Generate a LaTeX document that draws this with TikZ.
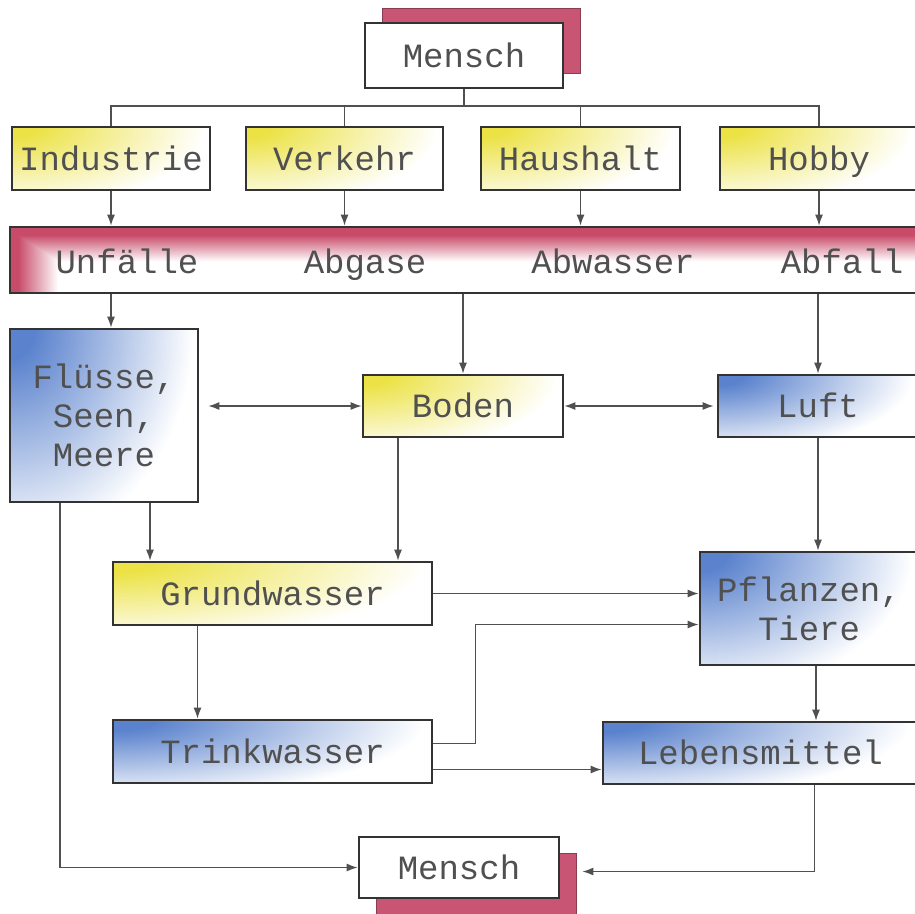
\documentclass[tikz,border=0pt]{standalone}
\usepackage{fontspec}
\setmainfont{Liberation Mono}
\usetikzlibrary{arrows.meta,shadows}

\definecolor{schatten}{RGB}{200,85,115}
\definecolor{tinte}{RGB}{80,80,80}

\pgfdeclarefunctionalshading{balken}{\pgfpoint{-50bp}{-50bp}}{\pgfpoint{50bp}{50bp}}{}{
  25 exch sub 20 div 1.3 exch sub
  exch 25 add 2.2 div 1.2 exch sub
  2 copy lt {exch} if pop
  dup 0 lt {pop 0} if
  dup 1 gt {pop 1} if
  dup 0.216 mul 1 exch sub
  exch dup 0.706 mul 1 exch sub
  exch 0.588 mul 1 exch sub
}
\pgfdeclarefunctionalshading{gelbwash}{\pgfpoint{-50bp}{-50bp}}{\pgfpoint{50bp}{50bp}}{}{
  25 exch sub 50 div 1.1 div dup mul
  exch 25 add 50 div 0.85 div dup mul
  add sqrt 1.15 exch sub
  dup 0 lt {pop 0} if
  dup 1 gt {pop 1} if
  dup 0.075 mul 1 exch sub
  exch dup 0.114 mul 1 exch sub
  exch 0.725 mul 1 exch sub
}
\pgfdeclarefunctionalshading{blauwash}{\pgfpoint{-50bp}{-50bp}}{\pgfpoint{50bp}{50bp}}{}{
  25 exch sub 50 div 1.1 div dup mul
  exch 25 add 50 div 0.85 div dup mul
  add sqrt 1.15 exch sub
  dup 0 lt {pop 0} if
  dup 1 gt {pop 1} if
  dup 0.647 mul 1 exch sub
  exch dup 0.49 mul 1 exch sub
  exch 0.196 mul 1 exch sub
}

\tikzset{
  schrift/.style={text=tinte, font=\fontsize{34}{39}\selectfont, align=center, text height=23pt, text depth=0pt},
  kasten/.style={schrift, draw=black!80, line width=2.6pt, inner sep=0pt, fill=white},
  gelbkasten/.style={kasten, shading=gelbwash},
  blaukasten/.style={kasten, shading=blauwash},
  mehrzeilig/.style={text height={}, text depth={}},
  mensch/.style={kasten, drop shadow={shadow xshift=17pt, shadow yshift=#1, fill=schatten, draw=schatten!70!black, line width=1pt, opacity=1}},
  linie/.style={draw=tinte, line width=1.5pt},
  pfeil/.style={linie, -{Latex[length=11pt,width=8pt]}},
  pfeil2/.style={linie, {Latex[length=11pt,width=8pt]}-{Latex[length=11pt,width=8pt]}}
}

\begin{document}
\begin{tikzpicture}[x=1pt,y=-1pt]
    \useasboundingbox (0,0) rectangle (915,913);
    \fill[white] (0,0) rectangle (915,913);

    \node[mensch=15pt, minimum width=198pt, minimum height=65pt] (menschO) at (464,55.5) {Mensch};
    \coordinate (bus) at (464,106);

    \node[gelbkasten, minimum width=198pt, minimum height=63pt] (indu) at (111,158.5) {Industrie};
    \node[gelbkasten, minimum width=197pt, minimum height=63pt] (verk) at (344.5,158.5) {Verkehr};
    \node[gelbkasten, minimum width=199pt, minimum height=63pt] (haus) at (580.5,158.5) {Haushalt};
    \node[gelbkasten, minimum width=198pt, minimum height=63pt] (hobby) at (819,158.5) {Hobby};

    \node[kasten, shading=balken, minimum width=908pt, minimum height=66pt] (bar) at (464,260) {};
    \node[schrift] (unfa) at (127,262) {Unfälle};
    \node[schrift] (abga) at (365,262) {Abgase};
    \node[schrift] (abwa) at (613,262) {Abwasser};
    \node[schrift] (abfa) at (842,262) {Abfall};

    \node[blaukasten, mehrzeilig, minimum width=188pt, minimum height=173pt] (flus) at (104,415.5) {Flüsse,\\Seen,\\Meere};
    \node[gelbkasten, minimum width=200pt, minimum height=62pt] (boden) at (463,406) {Boden};
    \node[blaukasten, minimum width=200pt, minimum height=62pt] (luft) at (818,406) {Luft};

    \node[gelbkasten, minimum width=319pt, minimum height=63pt] (grund) at (272.5,593.5) {Grundwasser};
    \node[blaukasten, mehrzeilig, minimum width=218pt, minimum height=113pt] (pflan) at (809,608.5) {Pflanzen,\\Tiere};

    \node[blaukasten, minimum width=319pt, minimum height=63pt] (trink) at (272.5,751.5) {Trinkwasser};
    \node[blaukasten, minimum width=315pt, minimum height=62pt] (leben) at (760.5,753) {Lebensmittel};

    \node[mensch=-16pt, minimum width=200pt, minimum height=61pt] (menschU) at (459,867.5) {Mensch};

    \draw[linie] (menschO.south) -- (bus);
    \draw[linie] (indu.north) |- (bus) -| (hobby.north);
    \draw[linie] (verk.north) -- (verk.north |- bus);
    \draw[linie] (haus.north) -- (haus.north |- bus);
    \foreach \n in {indu,verk,haus,hobby}
        \draw[pfeil] (\n.south) -- (\n.south |- bar.north);

    \draw[pfeil] (indu.south |- bar.south) -- (indu.south |- flus.north);
    \draw[pfeil] (boden.north |- bar.south) -- (boden.north);
    \draw[pfeil] (luft.north |- bar.south) -- (luft.north);

    \draw[pfeil2, shorten <=9pt] (flus.east |- boden.west) -- (boden.west);
    \draw[pfeil2, shorten >=3pt] (boden.east) -- (luft.west);

    \coordinate (bg) at ([xshift=-65pt]boden.south);
    \draw[pfeil] (bg) -- (bg |- grund.north);
    \coordinate (fg) at ([xshift=46pt]flus.south);
    \draw[pfeil] (fg) -- (fg |- grund.north);
    \coordinate (fm) at ([xshift=-44pt]flus.south);
    \draw[pfeil] (fm) |- (menschU.west);
    \draw[pfeil] (luft.south) -- (luft.south |- pflan.north);

    \draw[pfeil] (grund.east) -- (grund.east -| pflan.west);
    \coordinate (tp) at ([yshift=8pt]trink.east);
    \coordinate (pt) at ([yshift=-16pt]pflan.west);
    \draw[pfeil] (tp) -- ++(42,0) |- (pt);
    \coordinate (gt) at ([xshift=-75pt]grund.south);
    \draw[pfeil] (gt) -- (gt |- trink.north);

    \coordinate (tl) at ([yshift=-18pt]trink.east);
    \draw[pfeil] (tl) -- (tl -| leben.west);
    \coordinate (pl) at ([xshift=7pt]pflan.south);
    \draw[pfeil] (pl) -- (pl |- leben.north);
    \coordinate (lm) at ([xshift=54pt]leben.south);
    \coordinate (ml) at ([xshift=22pt,yshift=-4pt]menschU.east);
    \draw[pfeil] (lm) |- (ml);
\end{tikzpicture}
\end{document}
